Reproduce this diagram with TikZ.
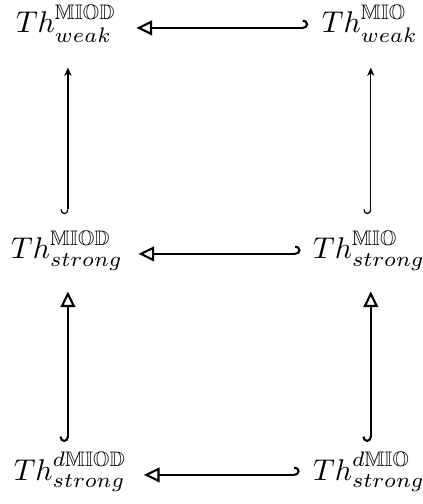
\documentclass[tikz,border=0pt]{standalone}
\usepackage{amssymb}
\usetikzlibrary{arrows.meta}
\begin{document}
\begin{tikzpicture}[x=0.3333pt,y=-0.3333pt,
  lbl/.style={inner sep=0pt, anchor=base},
  weakarr/.style={line width=0.4pt, {Hooks[right,length=1.6pt,width=5pt]}-{Stealth[length=2.8pt,width=2.4pt]}},
  incarr/.style={line width=0.7pt, {Hooks[right,length=1.8pt,width=5.6pt]}-{Triangle[open,length=5.2pt,width=4.9pt]}},
  harr/.style={line width=0.7pt, {Hooks[left,length=1.8pt,width=5.6pt]}-{Triangle[open,length=5.2pt,width=4.9pt]}}]
\useasboundingbox (0,0) rectangle (422,504);
\node[lbl] (TL) at (66,33) {$Th^{\mathbb{MIOD}}_{weak}$};
\node[lbl] (TR) at (370,33) {$Th^{\mathbb{MIO}}_{weak}$};
\node[lbl] (ML) at (67,259) {$Th^{\mathbb{MIOD}}_{strong}$};
\node[lbl] (MR) at (369,259) {$Th^{\mathbb{MIO}}_{strong}$};
\node[lbl] (BL) at (70,480) {$Th^{d\mathbb{MIOD}}_{strong}$};
\node[lbl] (BR) at (369,480) {$Th^{d\mathbb{MIO}}_{strong}$};
% horizontal
\draw[harr, shorten <=4.4pt, shorten >=6.6pt] ([yshift=1.7pt]TR.base west) -- ([yshift=1.7pt]TL.base east);
\draw[harr, shorten <=4pt, shorten >=5pt] ([yshift=1.7pt]MR.base west) -- ([yshift=1.7pt]ML.base east);
\draw[harr, shorten <=4.3pt, shorten >=5.7pt] ([yshift=1.7pt]BR.base west) -- ([yshift=1.7pt]BL.base east);
% vertical
\draw[weakarr, shorten <=5.3pt, shorten >=8.3pt] ([xshift=0.3pt]ML.north) -- ([xshift=0.3pt]ML.north |- TL.south);
\draw[weakarr, shorten <=5.3pt, shorten >=8.3pt] ([xshift=0.6pt]MR.north) -- ([xshift=0.6pt]MR.north |- TR.south);
\draw[incarr, shorten <=3pt, shorten >=6.8pt] ([xshift=0.3pt]ML.south |- BL.north) -- ([xshift=0.3pt]ML.south);
\draw[incarr, shorten <=3pt, shorten >=6.8pt] ([xshift=0.6pt]MR.south |- BR.north) -- ([xshift=0.6pt]MR.south);
\end{tikzpicture}
\end{document}
